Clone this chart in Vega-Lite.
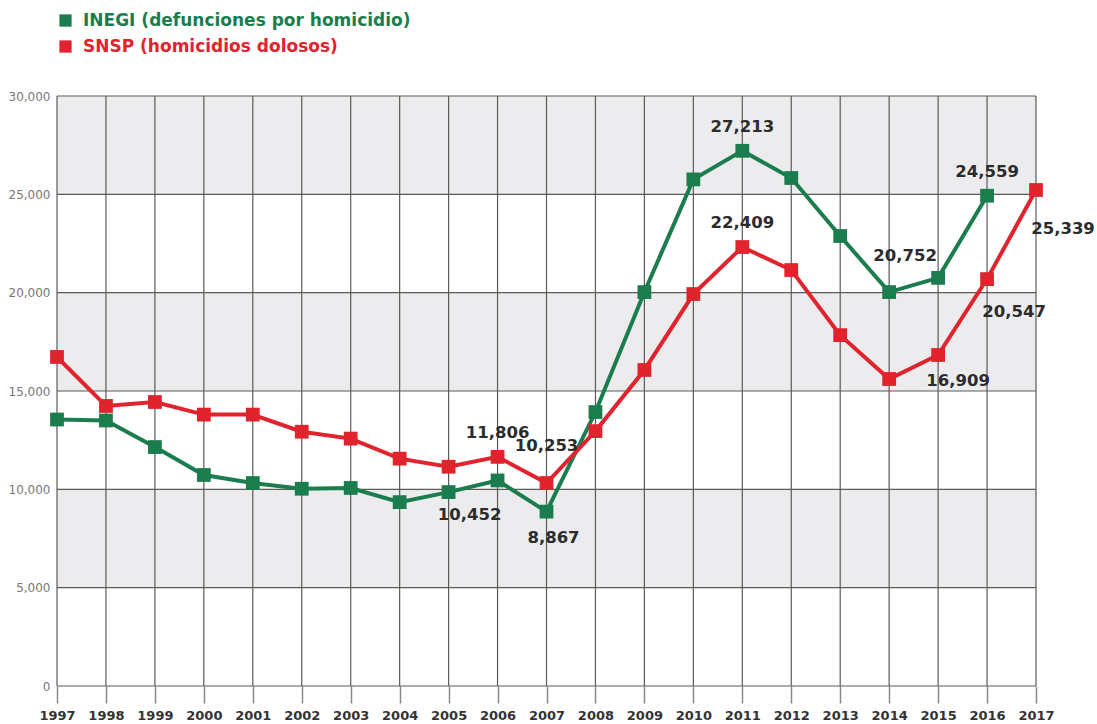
{
  "$schema": "https://vega.github.io/schema/vega-lite/v6.json",
  "width": 979,
  "height": 590,
  "autosize": {"type": "none"},
  "padding": {"left": 57, "top": 96, "right": 61, "bottom": 38},
  "background": "white",
  "config": {"view": {"stroke": null}},
  "datasets": {
    "bands": [
      {"mid": 7500},
      {"mid": 17500},
      {"mid": 27500}
    ],
    "hgrid": [
      {"v": 0}, {"v": 5000}, {"v": 10000}, {"v": 15000}, {"v": 20000}, {"v": 25000}, {"v": 30000}
    ],
    "vgrid": [
      {"year": 1997}, {"year": 1998}, {"year": 1999}, {"year": 2000}, {"year": 2001}, {"year": 2002}, {"year": 2003},
      {"year": 2004}, {"year": 2005}, {"year": 2006}, {"year": 2007}, {"year": 2008}, {"year": 2009}, {"year": 2010},
      {"year": 2011}, {"year": 2012}, {"year": 2013}, {"year": 2014}, {"year": 2015}, {"year": 2016}, {"year": 2017}
    ],
    "series": [
      {"year": 1997, "series": "INEGI (defunciones por homicidio)", "value": 13550},
      {"year": 1998, "series": "INEGI (defunciones por homicidio)", "value": 13500},
      {"year": 1999, "series": "INEGI (defunciones por homicidio)", "value": 12150},
      {"year": 2000, "series": "INEGI (defunciones por homicidio)", "value": 10730},
      {"year": 2001, "series": "INEGI (defunciones por homicidio)", "value": 10320},
      {"year": 2002, "series": "INEGI (defunciones por homicidio)", "value": 10030},
      {"year": 2003, "series": "INEGI (defunciones por homicidio)", "value": 10070},
      {"year": 2004, "series": "INEGI (defunciones por homicidio)", "value": 9350},
      {"year": 2005, "series": "INEGI (defunciones por homicidio)", "value": 9860},
      {"year": 2006, "series": "INEGI (defunciones por homicidio)", "value": 10452, "label": "10,452"},
      {"year": 2007, "series": "INEGI (defunciones por homicidio)", "value": 8867, "label": "8,867"},
      {"year": 2008, "series": "INEGI (defunciones por homicidio)", "value": 13930},
      {"year": 2009, "series": "INEGI (defunciones por homicidio)", "value": 20030},
      {"year": 2010, "series": "INEGI (defunciones por homicidio)", "value": 25760},
      {"year": 2011, "series": "INEGI (defunciones por homicidio)", "value": 27213, "label": "27,213"},
      {"year": 2012, "series": "INEGI (defunciones por homicidio)", "value": 25830},
      {"year": 2013, "series": "INEGI (defunciones por homicidio)", "value": 22880},
      {"year": 2014, "series": "INEGI (defunciones por homicidio)", "value": 20030},
      {"year": 2015, "series": "INEGI (defunciones por homicidio)", "value": 20752, "label": "20,752"},
      {"year": 2016, "series": "INEGI (defunciones por homicidio)", "value": 24930, "label": "24,559"},
      {"year": 1997, "series": "SNSP (homicidios dolosos)", "value": 16730},
      {"year": 1998, "series": "SNSP (homicidios dolosos)", "value": 14240},
      {"year": 1999, "series": "SNSP (homicidios dolosos)", "value": 14440},
      {"year": 2000, "series": "SNSP (homicidios dolosos)", "value": 13800},
      {"year": 2001, "series": "SNSP (homicidios dolosos)", "value": 13800},
      {"year": 2002, "series": "SNSP (homicidios dolosos)", "value": 12930},
      {"year": 2003, "series": "SNSP (homicidios dolosos)", "value": 12580},
      {"year": 2004, "series": "SNSP (homicidios dolosos)", "value": 11560},
      {"year": 2005, "series": "SNSP (homicidios dolosos)", "value": 11150},
      {"year": 2006, "series": "SNSP (homicidios dolosos)", "value": 11650, "label": "11,806"},
      {"year": 2007, "series": "SNSP (homicidios dolosos)", "value": 10320, "label": "10,253"},
      {"year": 2008, "series": "SNSP (homicidios dolosos)", "value": 12960},
      {"year": 2009, "series": "SNSP (homicidios dolosos)", "value": 16070},
      {"year": 2010, "series": "SNSP (homicidios dolosos)", "value": 19930},
      {"year": 2011, "series": "SNSP (homicidios dolosos)", "value": 22320, "label": "22,409"},
      {"year": 2012, "series": "SNSP (homicidios dolosos)", "value": 21150},
      {"year": 2013, "series": "SNSP (homicidios dolosos)", "value": 17840},
      {"year": 2014, "series": "SNSP (homicidios dolosos)", "value": 15610},
      {"year": 2015, "series": "SNSP (homicidios dolosos)", "value": 16830, "label": "16,909"},
      {"year": 2016, "series": "SNSP (homicidios dolosos)", "value": 20690, "label": "20,547"},
      {"year": 2017, "series": "SNSP (homicidios dolosos)", "value": 25220, "label": "25,339"}
    ]
  },
  "layer": [
    {
      "data": {"name": "bands"},
      "mark": {"type": "rule", "stroke": "#ececee", "strokeWidth": 98.3, "strokeCap": "butt"},
      "encoding": {
        "y": {"field": "mid", "type": "quantitative", "scale": {"domain": [0, 30000], "nice": false}, "axis": null}
      }
    },
    {
      "data": {"name": "hgrid"},
      "mark": {"type": "rule", "stroke": "#5a5a5a", "strokeWidth": 1.2},
      "encoding": {
        "y": {"field": "v", "type": "quantitative", "axis": null}
      }
    },
    {
      "data": {"name": "vgrid"},
      "mark": {"type": "rule", "stroke": "#5a5a5a", "strokeWidth": 1.2},
      "encoding": {
        "x": {"field": "year", "type": "quantitative", "axis": null}
      }
    },
    {
      "data": {"name": "series"},
      "encoding": {
        "x": {
          "field": "year",
          "type": "quantitative",
          "scale": {"domain": [1997, 2017], "nice": false, "zero": false},
          "axis": {
            "title": null,
            "orient": "bottom",
            "values": [1997, 1998, 1999, 2000, 2001, 2002, 2003, 2004, 2005, 2006, 2007, 2008, 2009, 2010, 2011, 2012, 2013, 2014, 2015, 2016, 2017],
            "format": "d",
            "domain": false,
            "grid": false,
            "tickSize": 17,
            "tickColor": "#888",
            "tickWidth": 1.5,
            "labelPadding": 6,
            "labelFlush": false,
            "labelOverlap": false,
            "labelFont": "DejaVu Sans",
            "labelFontWeight": "bold",
            "labelFontSize": 13,
            "labelColor": "#333"
          }
        },
        "y": {
          "field": "value",
          "type": "quantitative",
          "scale": {"domain": [0, 30000], "nice": false},
          "axis": {
            "title": null,
            "orient": "left",
            "values": [0, 5000, 10000, 15000, 20000, 25000, 30000],
            "format": ",d",
            "domain": false,
            "grid": false,
            "ticks": false,
            "labelPadding": 7,
            "labelFont": "DejaVu Sans",
            "labelFontSize": 12,
            "labelColor": "#777"
          }
        }
      },
      "layer": [
        {
          "mark": {"type": "line", "strokeWidth": 4},
          "encoding": {
            "color": {
              "field": "series",
              "type": "nominal",
              "scale": {
                "domain": ["INEGI (defunciones por homicidio)", "SNSP (homicidios dolosos)"],
                "range": ["#1b7d4d", "#e1232d"]
              },
              "legend": {
                "title": null,
                "orient": "none",
                "legendX": 0,
                "legendY": -84,
                "symbolType": "square",
                "symbolSize": 150,
                "symbolStrokeWidth": 0,
                "labelFont": "DejaVu Sans",
                "labelFontSize": 17,
                "labelFontWeight": 600,
                "labelOffset": 9,
                "labelLimit": 0,
                "rowPadding": 8,
                "padding": 0,
                "encode": {
                  "labels": {"update": {"fill": {"signal": "datum.value[0] == 'I' ? '#1b7d4d' : '#e1232d'"}}}
                }
              }
            }
          }
        },
        {
          "mark": {"type": "point", "shape": "square", "filled": true, "size": 190, "opacity": 1},
          "encoding": {
            "color": {"field": "series", "type": "nominal"}
          }
        },
        {
          "transform": [{"filter": "datum.label && ((datum.year == 2011) || (datum.year == 2016 && datum.series[0] == 'I') || (datum.year == 2006 && datum.series[0] == 'S'))"}],
          "mark": {"type": "text", "dy": -24, "font": "DejaVu Sans", "fontWeight": "bold", "fontSize": 16.5, "color": "#2b2b2b"},
          "encoding": {"text": {"field": "label"}}
        },
        {
          "transform": [{"filter": "datum.year == 2007 && datum.series[0] == 'S'"}],
          "mark": {"type": "text", "dy": -37, "font": "DejaVu Sans", "fontWeight": "bold", "fontSize": 16.5, "color": "#2b2b2b"},
          "encoding": {"text": {"field": "label"}}
        },
        {
          "transform": [{"filter": "datum.year == 2017"}],
          "mark": {"type": "text", "dx": 27, "dy": 39, "font": "DejaVu Sans", "fontWeight": "bold", "fontSize": 16.5, "color": "#2b2b2b"},
          "encoding": {"text": {"field": "label"}}
        },
        {
          "transform": [{"filter": "datum.year == 2015 && datum.series[0] == 'I'"}],
          "mark": {"type": "text", "dx": -33, "dy": -22, "font": "DejaVu Sans", "fontWeight": "bold", "fontSize": 16.5, "color": "#2b2b2b"},
          "encoding": {"text": {"field": "label"}}
        },
        {
          "transform": [{"filter": "datum.year == 2016 && datum.series[0] == 'S'"}],
          "mark": {"type": "text", "dx": 27, "dy": 33, "font": "DejaVu Sans", "fontWeight": "bold", "fontSize": 16.5, "color": "#2b2b2b"},
          "encoding": {"text": {"field": "label"}}
        },
        {
          "transform": [{"filter": "datum.year == 2015 && datum.series[0] == 'S'"}],
          "mark": {"type": "text", "dx": 20, "dy": 26, "font": "DejaVu Sans", "fontWeight": "bold", "fontSize": 16.5, "color": "#2b2b2b"},
          "encoding": {"text": {"field": "label"}}
        },
        {
          "transform": [{"filter": "datum.year == 2006 && datum.series[0] == 'I'"}],
          "mark": {"type": "text", "dx": -28, "dy": 35, "font": "DejaVu Sans", "fontWeight": "bold", "fontSize": 16.5, "color": "#2b2b2b"},
          "encoding": {"text": {"field": "label"}}
        },
        {
          "transform": [{"filter": "datum.year == 2007 && datum.series[0] == 'I'"}],
          "mark": {"type": "text", "dx": 7, "dy": 26, "font": "DejaVu Sans", "fontWeight": "bold", "fontSize": 16.5, "color": "#2b2b2b"},
          "encoding": {"text": {"field": "label"}}
        }
      ]
    }
  ],
  "resolve": {"scale": {"x": "shared", "y": "shared"}, "axis": {"x": "independent", "y": "independent"}}
}
